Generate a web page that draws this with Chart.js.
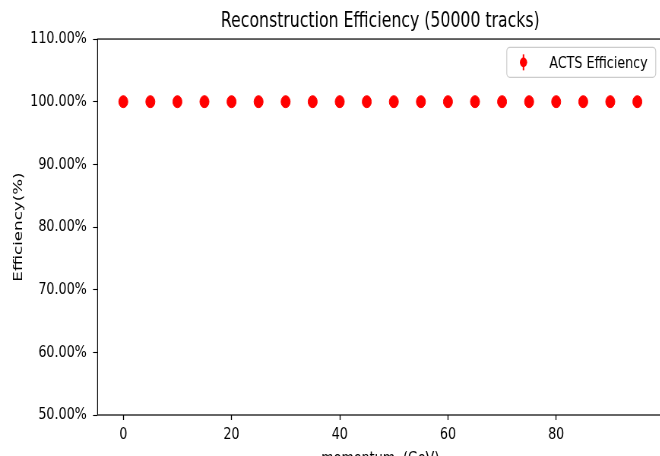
<!DOCTYPE html>
<html>
<head>
<meta charset="utf-8">
<script src="https://cdn.jsdelivr.net/npm/chart.js@4.4.0/dist/chart.umd.min.js"></script>
<style>
  html, body { margin: 0; padding: 0; background: #fff; overflow: hidden; width: 660px; height: 456px; }
  #c { position: absolute; left: 0; top: 0; transform: scaleX(0.76); transform-origin: 0 0; }
</style>
</head>
<body>
<canvas id="c" width="885" height="470"></canvas>
<script>
// Tracking efficiency per momentum bin
const momentum   = [0, 5, 10, 15, 20, 25, 30, 35, 40, 45, 50, 55, 60, 65, 70, 75, 80, 85, 90, 95];
const efficiency = [100, 100, 100, 100, 100, 100, 100, 100, 100, 100, 100, 100, 100, 100, 100, 100, 100, 100, 100, 100];
const xTicks = [0, 20, 40, 60, 80];
const yTicks = [50, 60, 70, 80, 90, 100, 110];
const seriesLabel = 'ACTS Efficiency';
const chartTitle = 'Reconstruction Efficiency (50000 tracks)';
const xLabel = 'momentum  (GeV)';
const yLabel = 'Efficiency(%)';

const RED = '#ff0000';
const FONT = '"DejaVu Sans", sans-serif';
const LABEL_SIZE = 16.7;
Chart.defaults.font.family = FONT;
Chart.defaults.color = '#000';

// Box around the plot area
const framePlugin = {
  id: 'frame',
  beforeDatasetsDraw(chart) {
    const {ctx, chartArea: a} = chart;
    ctx.save();
    ctx.strokeStyle = '#000';
    ctx.lineWidth = 1.2;
    ctx.strokeRect(a.left, a.top, a.right - a.left, a.bottom - a.top);
    ctx.restore();
  }
};

// Legend entry with an errorbar-style marker, inside the upper right corner
const legendPlugin = {
  id: 'errLegend',
  afterDraw(chart) {
    const {ctx, chartArea: a} = chart;
    const w = 196, h = 30;
    const x = a.right - 9.6 - w, y = a.top + 8.3;
    ctx.save();
    ctx.beginPath();
    ctx.roundRect(x, y, w, h, 4);
    ctx.fillStyle = 'rgba(255,255,255,0.8)';
    ctx.fill();
    ctx.strokeStyle = '#cccccc';
    ctx.lineWidth = 1.2;
    ctx.stroke();
    const mx = x + 22, my = y + h / 2;
    ctx.strokeStyle = RED;
    ctx.lineWidth = 2;
    ctx.beginPath();
    ctx.moveTo(mx, my - 8);
    ctx.lineTo(mx, my + 8);
    ctx.stroke();
    ctx.fillStyle = RED;
    ctx.beginPath();
    ctx.arc(mx, my, 4.8, 0, Math.PI * 2);
    ctx.fill();
    ctx.fillStyle = '#000';
    ctx.font = LABEL_SIZE + 'px ' + FONT;
    ctx.textBaseline = 'middle';
    ctx.textAlign = 'left';
    ctx.fillText(chart.data.datasets[0].label, x + 56, my + 1);
    ctx.restore();
  }
};

new Chart(document.getElementById('c'), {
  type: 'scatter',
  data: {
    datasets: [{
      label: seriesLabel,
      data: momentum.map((m, i) => ({x: m, y: efficiency[i]})),
      backgroundColor: RED,
      borderColor: RED,
      borderWidth: 1,
      pointRadius: 6,
      pointHoverRadius: 6
    }]
  },
  options: {
    responsive: false,
    animation: false,
    devicePixelRatio: 1,
    layout: { padding: { left: 0, right: 12.6, top: 0, bottom: 0 } },
    plugins: {
      legend: { display: false },
      tooltip: { enabled: false },
      title: {
        display: true,
        text: chartTitle,
        fullSize: false,
        color: '#000',
        font: { size: 20.7, weight: 'normal', lineHeight: 1.2 },
        padding: { top: 9.6, bottom: 4.6 }
      }
    },
    scales: {
      x: {
        type: 'linear',
        min: -4.75,
        max: 99.75,
        afterBuildTicks(s) { s.ticks = xTicks.map(v => ({value: v})); },
        afterFit(s) { s.height = 55; },
        border: { display: false },
        grid: { display: true, drawOnChartArea: false, drawTicks: true, tickLength: 5, tickColor: '#000', tickWidth: 1.3 },
        ticks: { font: { size: LABEL_SIZE }, color: '#000', padding: 5, maxRotation: 0, callback: v => String(v) },
        title: { display: true, text: xLabel, color: '#000', font: { size: LABEL_SIZE }, padding: { top: 0, bottom: 1 } }
      },
      y: {
        type: 'linear',
        min: 50,
        max: 110,
        afterBuildTicks(s) { s.ticks = yTicks.map(v => ({value: v})); },
        afterFit(s) { s.width = 128.4; },
        border: { display: false },
        grid: { display: true, drawOnChartArea: false, drawTicks: true, tickLength: 6, tickColor: '#000', tickWidth: 1.1 },
        ticks: { font: { size: LABEL_SIZE }, color: '#000', padding: 8.3, callback: v => v.toFixed(2) + '%' },
        title: { display: true, text: yLabel, color: '#000', font: { size: LABEL_SIZE }, padding: { top: 14.3, bottom: 0 } }
      }
    }
  },
  plugins: [framePlugin, legendPlugin]
});
</script>
</body>
</html>
